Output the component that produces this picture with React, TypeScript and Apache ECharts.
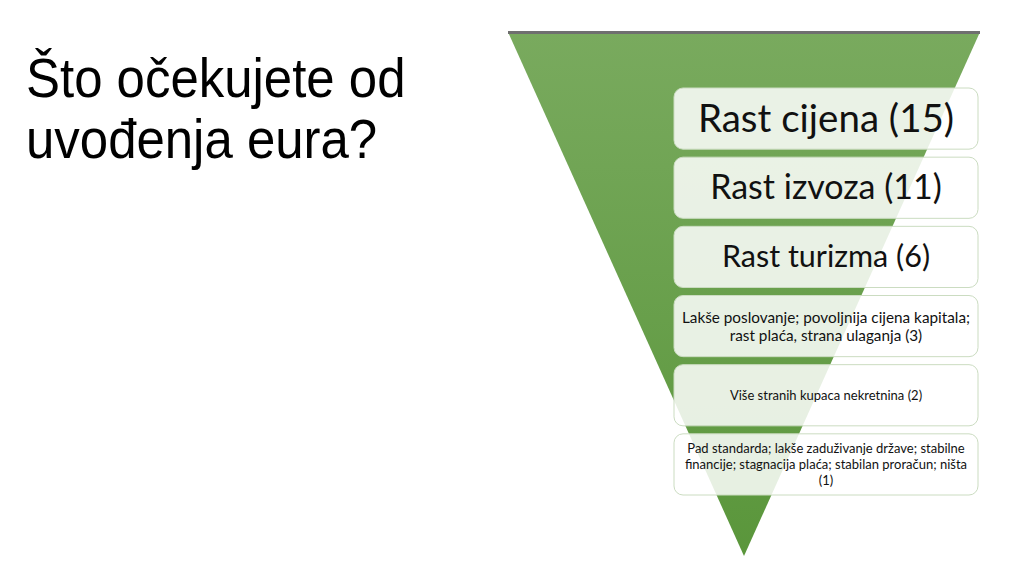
import React, { useEffect, useRef } from 'react';
import * as echarts from 'echarts';

const title = ['Što očekujete od', 'uvođenja eura?'];

const answers = [
  'Rast cijena',
  'Rast izvoza',
  'Rast turizma',
  'Lakše poslovanje; povoljnija cijena kapitala;\nrast plaća, strana ulaganja',
  'Više stranih kupaca nekretnina',
  'Pad standarda; lakše zaduživanje države; stabilne\nfinancije; stagnacija plaća; stabilan proračun; ništa',
];

const counts = [15, 11, 6, 3, 2, 1];

// font size and line height per row, the big three are set larger like on the slide
const labelSizes = [38.5, 34, 30.5, 15.3, 13, 13];
const labelLines = [44, 40, 36, 18, 16, 16];

const App = () => {
  const chartRef = useRef<HTMLDivElement>(null);

  useEffect(() => {
    if (!chartRef.current) return;

    const chart = echarts.init(chartRef.current, null, { renderer: 'svg' });

    const rows = answers.map((a, i) => {
      // last row wraps the count onto its own line
      const text = i === answers.length - 1 ? `${a}\n(${counts[i]})` : `${a} (${counts[i]})`;
      return [0, i, text, labelSizes[i], labelLines[i]];
    });

    const titleFont = '56px "Liberation Sans", Arial, sans-serif';

    chart.setOption({
      animation: false,
      backgroundColor: '#ffffff',
      grid: { left: 674, width: 304, top: 84, height: 415 },
      xAxis: { type: 'value', min: 0, max: 1, show: false },
      yAxis: {
        type: 'category',
        data: answers.map((_, i) => i),
        inverse: true,
        show: false,
      },
      graphic: [
        {
          type: 'polygon',
          z: 0,
          shape: { points: [[508, 32], [980, 32], [744, 556]] },
          style: {
            fill: new echarts.graphic.LinearGradient(0, 0, 0, 1, [
              { offset: 0, color: '#79aa5e' },
              { offset: 1, color: '#5a963b' },
            ]),
          },
        },
        {
          type: 'line',
          z: 1,
          shape: { x1: 508, y1: 32.5, x2: 980, y2: 32.5 },
          style: { stroke: '#6f6f6f', lineWidth: 3 },
        },
        ...title.map((t, i) => ({
          type: 'text',
          x: 26,
          y: 78 + i * 61,
          scaleX: 0.91,
          style: {
            text: t,
            x: 0,
            y: 0,
            verticalAlign: 'middle',
            font: titleFont,
            fill: '#000000',
          },
        })),
      ],
      series: [
        {
          type: 'custom',
          z: 5,
          data: rows,
          renderItem: (params: any, api: any) => {
            const cs = params.coordSys;
            const yc = api.coord([0, api.value(1)])[1];
            const band = api.size([0, 1])[1];
            const h = band - 8;
            const size = api.value(3) as number;
            return {
              type: 'group',
              children: [
                {
                  type: 'rect',
                  shape: { x: cs.x, y: yc - h / 2, width: cs.width, height: h, r: 9 },
                  style: {
                    fill: 'rgba(255,255,255,0.85)',
                    stroke: '#cbdcc1',
                    lineWidth: 1,
                  },
                },
                {
                  type: 'text',
                  style: {
                    x: cs.x + cs.width / 2,
                    y: yc - (size > 20 ? 2 : 0),
                    text: String(api.value(2)),
                    align: 'center',
                    verticalAlign: 'middle',
                    font: `${size}px Lato, "Open Sans", sans-serif`,
                    lineHeight: api.value(4),
                    fill: '#111111',
                  },
                },
              ],
            };
          },
        },
      ],
    });

    return () => {
      chart.dispose();
    };
  }, []);

  return <div ref={chartRef} style={{ width: 1024, height: 585, position: 'absolute', left: 0, top: 0 }} />;
};

export default App;
